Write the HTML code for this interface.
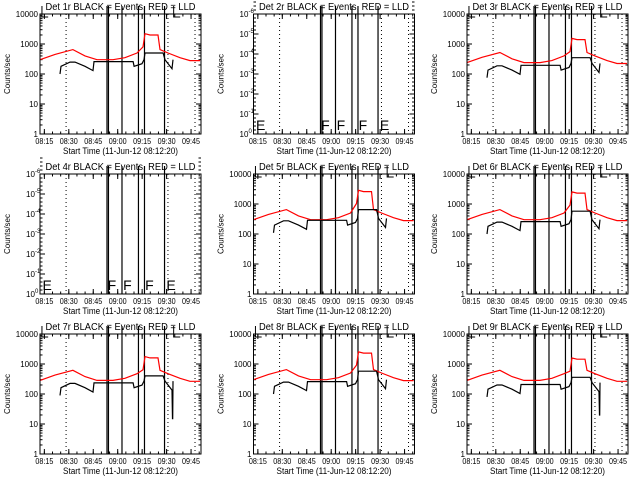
<!DOCTYPE html>
<html><head><meta charset="utf-8"><style>
body{margin:0;background:#fff;}
svg{display:block;font-family:"Liberation Sans",sans-serif;}
</style></head><body>
<svg id="c" width="640" height="480" viewBox="0 0 640 480"></svg>
<script>
// shared time grid (minutes since 08:12:20)
const redT=[0,9.2,20.2,27.6,35,44.8,52.1,59.5,63.2,64.4,67.5,72.4,73.6,78.5,85.9,92,98.2];
const redShape=[300,450,650,400,300,300,350,500,800,2200,2000,2000,650,500,350,280,280];
const blackT=[12.3,12.9,18.4,21.5,27.6,32.5,33.1,57.1,57.7,62.6,63.8,64.4,75.5,76.7,81,81.6];
const blackShape=[100,180,250,250,180,130,260,260,180,220,300,500,500,300,150,300];
const eventLines=[41.1,42,50.3,60.4,64.1,76.4];
const dottedLines=[16,78.5,95.1];
const tickLabels=["08:15","08:30","08:45","09:00","09:15","09:30","09:45"];
const tickMins=[2.67,17.67,32.67,47.67,62.67,77.67,92.67];
const detNames=["1r","2r","3r","4r","5r","6r","7r","8r","9r"];
const hasData=[true,false,true,false,true,true,true,true,true];
const redPeakScale=[1,0,0.7,0,1.3,1.15,0.8,1.15,0.72];
const redBaseScale=[1,0,0.8,0,1,1,0.95,1,0.95];
const blackScale=[1,0,0.75,0,1.1,1,0.9,1,0.8];
const endDip=[0,0,0,0,0,0,15,0,20];
const emptyLetters=["E","F","F","F","E"];
const emptyLetterMins=[1.5,41.5,51,64.5,77.5];

const svg=document.getElementById('c');
const NS="http://www.w3.org/2000/svg";
function mk(tag,attrs,parent){const e=document.createElementNS(NS,tag);for(const k in attrs)e.setAttribute(k,attrs[k]);(parent||svg).appendChild(e);return e;}
const colX=[40,253.5,467], rowY=[14,174,334], W=161, H=120;
for(let p=0;p<9;p++){
  const x0=colX[p%3], y0=rowY[Math.floor(p/3)];
  const g=mk('g',{});
  
  
  const xs=m=>x0+m*1.63;
  const ys=v=>y0+H-(Math.log10(Math.max(v,1)))*H/4;
  const t=mk('text',{x:x0+W/2,y:y0-4,'text-anchor':'middle','font-size':10,textLength:150,lengthAdjust:'spacingAndGlyphs'},g);
  t.textContent='Det '+detNames[p]+' BLACK = Events, RED = LLD';
  
  
  const yl=mk('text',{x:0,y:0,'font-size':8,'text-anchor':'middle',transform:`translate(${x0-30},${y0+H/2}) rotate(-90)`},g);
  yl.textContent='Counts/sec';
  
  
  const xl=mk('text',{x:x0+W/2,y:y0+H+20,'text-anchor':'middle','font-size':9,textLength:115,lengthAdjust:'spacingAndGlyphs'},g);
  xl.textContent='Start Time (11-Jun-12 08:12:20)';
  
  
  for(let i=0;i<tickMins.length;i++){
    const x=xs(tickMins[i]);
    mk('line',{x1:x,x2:x,y1:y0+H,y2:y0+H-5,stroke:'#000'},g);
    mk('line',{x1:x,x2:x,y1:y0,y2:y0+5,stroke:'#000'},g);
    const tl=mk('text',{x:x,y:y0+H+10,'text-anchor':'middle','font-size':8,textLength:18,lengthAdjust:'spacingAndGlyphs'},g);
    tl.textContent=tickLabels[i];
    
    
  }
  for(let m=2.67;m<100;m+=5){const x=xs(m);
    mk('line',{x1:x,x2:x,y1:y0+H,y2:y0+H-2.5,stroke:'#000'},g);
    mk('line',{x1:x,x2:x,y1:y0,y2:y0+2.5,stroke:'#000'},g);}
  if(hasData[p]){
    for(let d=0;d<=4;d++){const y=ys(Math.pow(10,d));
      mk('line',{x1:x0,x2:x0+5,y1:y,y2:y,stroke:'#000'},g);
      mk('line',{x1:x0+W,x2:x0+W-5,y1:y,y2:y,stroke:'#000'},g);
      const yt=mk('text',{x:x0-2,y:y+3,'text-anchor':'end','font-size':8},g);
      yt.textContent=String(Math.pow(10,d));
      
      
      if(d<4)for(let k=2;k<10;k++){const yy=ys(k*Math.pow(10,d));
        mk('line',{x1:x0,x2:x0+2.5,y1:yy,y2:yy,stroke:'#000'},g);
        mk('line',{x1:x0+W,x2:x0+W-2.5,y1:yy,y2:yy,stroke:'#000'},g);}
    }
  } else {
    for(let i=0;i<=6;i++){const y=y0+H-i*H/6;
      mk('line',{x1:x0,x2:x0+5,y1:y,y2:y,stroke:'#000'},g);
      mk('line',{x1:x0+W,x2:x0+W-5,y1:y,y2:y,stroke:'#000'},g);
      const yt=mk('text',{x:x0-14,y:y+3,'font-size':8},g);
      yt.textContent='10';
      
      
      const sp=mk('text',{x:x0-5,y:y-1,'font-size':6},g);
      sp.textContent=i===0?'0':'-'+i;
      for(let k=1;k<5;k++){const yy=y-k*H/30;
        mk('line',{x1:x0,x2:x0+2.5,y1:yy,y2:yy,stroke:'#000'},g);
        mk('line',{x1:x0+W,x2:x0+W-2.5,y1:yy,y2:yy,stroke:'#000'},g);}
    }
    for(let i=0;i<emptyLetters.length;i++){
      const lt=mk('text',{x:xs(emptyLetterMins[i]),y:y0+H-4,'font-size':14,'font-weight':'300'},g);
      lt.textContent=emptyLetters[i];
      
      
    }
  }
  for(const m of dottedLines){const l=mk('line',{x1:xs(m),x2:xs(m),y1:y0,y2:y0+H,stroke:'#000','stroke-dasharray':'1,3'},g);
    
    }
  for(const m of eventLines){const l=mk('line',{x1:xs(m),x2:xs(m),y1:y0-8,y2:y0+H,stroke:'#000','stroke-width':1.2},g);
    
    }
  if(hasData[p]){
    mk('path',{d:`M${xs(1.2)},${y0-8}V${y0+3}H${xs(5)}M${xs(82)},${y0-8}V${y0+3}H${xs(86)}`,stroke:'#000',fill:'none'},g);
    const red=redT.map((m,i)=>{let v=redShape[i];v=(i>=8&&i<=11)?v*redPeakScale[p]:v*redBaseScale[p];return xs(m).toFixed(1)+','+ys(v).toFixed(1);}).join(' ');
    const rl=mk('polyline',{points:red,fill:'none',stroke:'#f00','stroke-width':1.2},g);
    
    
    const bpts=blackT.map((m,i)=>{let v=blackShape[i]*(i>=11&&i<=12?redPeakScale[p]:blackScale[p]);return [m,v];});
    if(endDip[p]){bpts.splice(bpts.length-1,0,[81.3,endDip[p]],[81.4,endDip[p]]);}
    const bl=mk('polyline',{points:bpts.map(a=>xs(a[0]).toFixed(1)+','+ys(a[1]).toFixed(1)).join(' '),fill:'none',stroke:'#000','stroke-width':1.2},g);
    
    
  }
  const fr=mk('rect',{x:x0,y:y0,width:W,height:H,fill:'none',stroke:'#000'},g);
  
  
}
</script>
</body></html>
